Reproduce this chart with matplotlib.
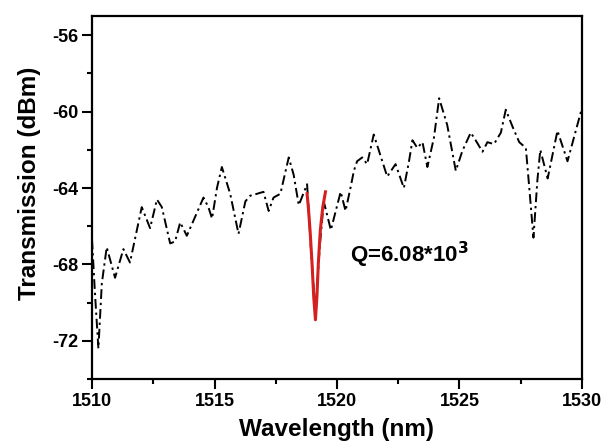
import numpy as np
import matplotlib
matplotlib.use("Agg")
import matplotlib.pyplot as plt

plt.rcParams['font.family'] = ['Liberation Sans', 'DejaVu Sans']
plt.rcParams['font.weight'] = 'bold'
plt.rcParams['axes.unicode_minus'] = False

wavelength = [1510.00, 1510.12, 1510.26, 1510.40, 1510.60, 1510.94, 1511.28, 1511.55,
              1512.03, 1512.37, 1512.65, 1512.85, 1513.19, 1513.39, 1513.60, 1513.87,
              1514.28, 1514.55, 1514.75, 1514.90, 1515.10, 1515.30, 1515.64, 1515.98,
              1516.26, 1516.46, 1516.74, 1517.00, 1517.21, 1517.41, 1517.69, 1518.03,
              1518.23, 1518.44, 1518.78, 1518.95, 1519.12, 1519.30, 1519.46, 1519.75,
              1520.15, 1520.35, 1520.55, 1520.69, 1520.82, 1521.03, 1521.23, 1521.50,
              1522.05, 1522.39, 1522.73, 1522.94, 1523.08, 1523.28, 1523.49, 1523.69,
              1523.96, 1524.17, 1524.50, 1524.85, 1525.12, 1525.46, 1525.66, 1525.94,
              1526.14, 1526.41, 1526.69, 1526.89, 1527.17, 1527.44, 1527.71, 1527.85,
              1528.02, 1528.18, 1528.30, 1528.60, 1529.00, 1529.41, 1529.96, 1530.00]
transmission = [-66.7, -69.5, -72.4, -69.0, -67.1, -68.7, -67.2, -67.9,
                -65.0, -66.1, -64.6, -65.0, -66.9, -66.8, -65.8, -66.5,
                -65.3, -64.5, -65.0, -65.6, -64.0, -62.9, -64.3, -66.4,
                -64.7, -64.4, -64.3, -64.2, -65.2, -64.5, -64.3, -62.4,
                -63.3, -64.9, -63.8, -67.5, -70.5, -67.0, -64.7, -66.2,
                -64.2, -65.2, -64.0, -63.1, -62.6, -62.4, -62.75, -61.2,
                -63.4, -62.75, -64.0, -62.6, -61.5, -61.9, -61.6, -62.9,
                -61.35, -59.3, -60.7, -63.1, -62.05, -61.1, -61.5, -62.1,
                -61.6, -61.7, -61.1, -59.9, -60.8, -61.6, -61.9, -64.0,
                -66.6, -63.6, -62.0, -63.5, -61.0, -62.6, -60.0, -59.9]

# resonance fit (red)
fit_wl = [1518.78, 1518.83, 1518.90, 1518.98, 1519.05, 1519.12,
          1519.18, 1519.24, 1519.32, 1519.42, 1519.53]
fit_t = [-64.3, -65.0, -66.2, -67.9, -69.7, -70.9,
         -69.7, -67.9, -66.2, -65.0, -64.2]

q_label = 'Q=6.08*10$^{\\mathbf{3}}$'

fig = plt.figure(figsize=(6.03, 4.48), dpi=100)
ax = fig.add_axes([0.1526, 0.154, 0.8125, 0.81])

ax.plot(wavelength, transmission, color='black', lw=1.4,
        linestyle=(0, (5, 2, 1.2, 2)))
ax.plot(fit_wl, fit_t, color='#d42020', lw=2.2)

ax.text(1520.55, -67.5, q_label, fontsize=16, fontweight='bold', va='center')

ax.set_xlim(1510, 1530)
ax.set_ylim(-74, -55)
ax.set_xticks([1510, 1515, 1520, 1525, 1530])
ax.set_yticks([-56, -60, -64, -68, -72])
ax.set_xticks([1512.5, 1517.5, 1522.5, 1527.5], minor=True)
ax.set_yticks([-58, -62, -66, -70, -74], minor=True)
ax.tick_params(which='major', direction='out', length=7, width=1.5,
               labelsize=13, pad=3)
ax.tick_params(which='minor', direction='out', length=3.5, width=1.5)
for lab in ax.get_xticklabels() + ax.get_yticklabels():
    lab.set_fontweight('bold')
for s in ax.spines.values():
    s.set_linewidth(1.6)

ax.set_xlabel('Wavelength (nm)', fontsize=17.5, fontweight='bold', labelpad=6)
ax.set_ylabel('Transmission (dBm)', fontsize=17.5, fontweight='bold')
ax.yaxis.set_label_coords(-0.104, 0.54)

fig.savefig('out.png', dpi=100)
